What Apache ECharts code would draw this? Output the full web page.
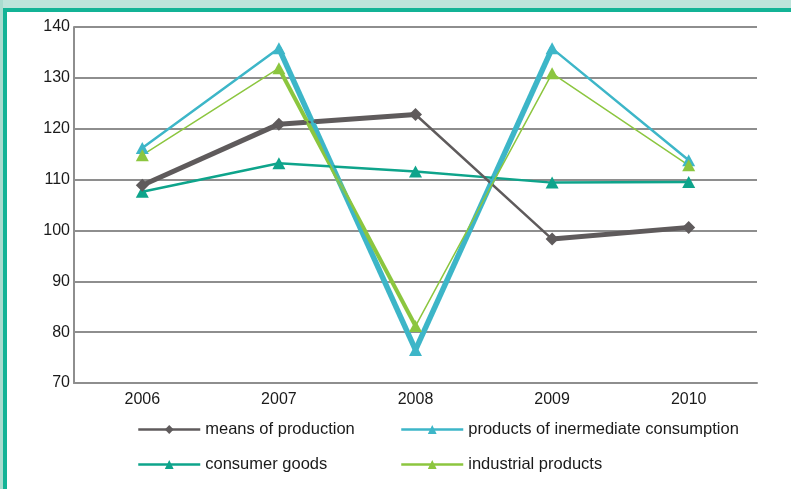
<!DOCTYPE html>
<html>
<head>
<meta charset="utf-8">
<script src="https://cdn.jsdelivr.net/npm/echarts@6/dist/echarts.min.js"></script>
<style>
html,body{margin:0;padding:0;background:#fff;}
#chart{width:791px;height:489px;}
</style>
</head>
<body>
<div id="chart"></div>
<script>
// ---- data ----
const years = ['2006', '2007', '2008', '2009', '2010'];
const meansOfProduction = [108.9, 120.9, 122.8, 98.3, 100.6];
const intermediateConsumption = [116.2, 135.8, 76.5, 135.8, 113.8];
const consumerGoods = [107.6, 113.2, 111.6, 109.4, 109.5];
const industrialProducts = [114.8, 131.9, 81.2, 130.9, 112.8];
const seriesNames = ['means of production', 'products of inermediate consumption', 'consumer goods', 'industrial products'];
const yMin = 70, yMax = 140, yStep = 10;

// ---- styling ----
const FONT = '"Liberation Sans", Arial, sans-serif';
const GRID_COLOR = '#8e8e8e';

function buildSeries(name, values, color, symbol, symbolSize, baseWidth, segWidths) {
  const out = [{
    name: name,
    type: 'line',
    data: values,
    z: 3,
    symbol: symbol,
    symbolSize: symbolSize,
    showAllSymbol: true,
    itemStyle: { color: color, borderWidth: 0 },
    lineStyle: { color: color, width: baseWidth },
    emphasis: { disabled: true },
    animation: false
  }];
  segWidths.forEach(function (w, i) {
    if (w <= baseWidth) return;
    out.push({
      name: name + '#seg' + i,
      type: 'line',
      data: values.map(function (v, j) { return (j === i || j === i + 1) ? v : null; }),
      z: 2,
      symbol: 'none',
      silent: true,
      lineStyle: { color: color, width: w },
      emphasis: { disabled: true },
      animation: false
    });
  });
  return out;
}

const series = [].concat(
  buildSeries(seriesNames[2], consumerGoods, '#0ea48b', 'triangle', [13, 12], 2.5, [2.5, 2.5, 2.5, 2.5]),
  buildSeries(seriesNames[0], meansOfProduction, '#5f5b5c', 'diamond', [13, 13], 2.5, [5, 5, 2.5, 5]),
  buildSeries(seriesNames[1], intermediateConsumption, '#3db6c8', 'triangle', [13, 12], 2.5, [2.5, 5.5, 5.5, 2.5]),
  buildSeries(seriesNames[3], industrialProducts, '#8cc63f', 'triangle', [13, 12], 1.5, [1.5, 4, 1.5, 1.5])
);

function legendAt(name, left, top) {
  return {
    data: [name],
    left: left,
    top: top,
    padding: 0,
    itemWidth: 62,
    itemHeight: 11,
    itemGap: 5,
    selectedMode: false,
    textStyle: { fontFamily: FONT, fontSize: 16.5, color: '#1a1a1a' },
    lineStyle: { width: 2.5 }
  };
}

const chart = echarts.init(document.getElementById('chart'), null, { renderer: 'canvas' });
chart.setOption({
  backgroundColor: '#ffffff',
  animation: false,
  grid: { left: 74, right: 34, top: 27, bottom: 106, containLabel: false },
  xAxis: {
    type: 'category',
    data: years,
    boundaryGap: true,
    axisLine: { show: true, lineStyle: { color: GRID_COLOR, width: 2 } },
    axisTick: { show: false },
    axisLabel: { fontFamily: FONT, fontSize: 16, color: '#1a1a1a', margin: 9 }
  },
  yAxis: {
    type: 'value',
    min: yMin,
    max: yMax,
    interval: yStep,
    axisLine: { show: true, lineStyle: { color: GRID_COLOR, width: 2 } },
    axisTick: { show: false },
    axisLabel: { fontFamily: FONT, fontSize: 16, color: '#1a1a1a', margin: 4 },
    splitLine: { show: true, lineStyle: { color: GRID_COLOR, width: 2 } }
  },
  legend: [
    legendAt(seriesNames[0], 137, 421),
    legendAt(seriesNames[1], 400, 421),
    legendAt(seriesNames[2], 137, 456),
    legendAt(seriesNames[3], 400, 456)
  ],
  graphic: [
    { type: 'rect', shape: { x: 0, y: 0, width: 791, height: 8 }, style: { fill: '#bee4db' }, silent: true, z: 10 },
    { type: 'rect', shape: { x: 0, y: 0, width: 3, height: 489 }, style: { fill: '#a9dccf' }, silent: true, z: 10 },
    { type: 'rect', shape: { x: 3, y: 8, width: 788, height: 4 }, style: { fill: '#13b396' }, silent: true, z: 11 },
    { type: 'rect', shape: { x: 3, y: 8, width: 4, height: 481 }, style: { fill: '#13b396' }, silent: true, z: 11 }
  ],
  series: series
});
</script>
</body>
</html>
